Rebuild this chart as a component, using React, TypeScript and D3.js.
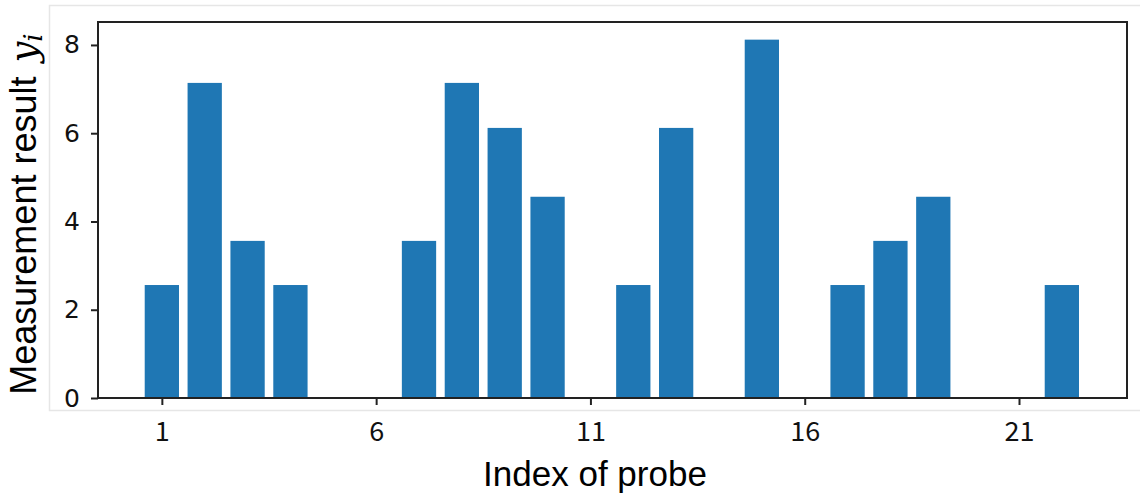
import React, { useEffect, useRef } from "react";
import * as d3 from "d3";

const probes = [1, 2, 3, 4, 5, 6, 7, 8, 9, 10, 11, 12, 13, 14, 15, 16, 17, 18, 19, 20, 21, 22];
const results = [2.56, 7.14, 3.56, 2.56, 0, 0, 3.56, 7.14, 6.12, 4.56, 0, 2.56, 6.12, 0, 8.12, 0, 2.56, 3.56, 4.56, 0, 0, 2.56];
const xTicks = [1, 6, 11, 16, 21];
const yTicks = [0, 2, 4, 6, 8];

const App = () => {
  const svgRef = useRef<SVGSVGElement>(null);

  useEffect(() => {
    const svg = d3.select(svgRef.current);
    svg.selectAll("*").remove();

    const width = 1140;
    const height = 499;
    const margin = { top: 22, right: 13, bottom: 101, left: 98 };

    // faint figure edge
    svg
      .append("rect")
      .attr("x", 49.5)
      .attr("y", 5.5)
      .attr("width", 1100)
      .attr("height", 405)
      .attr("fill", "none")
      .attr("stroke", "#e6e6e6")
      .attr("stroke-width", 1.5);

    const xScale = d3
      .scaleLinear()
      .domain([-0.49, 23.52])
      .range([margin.left, width - margin.right]);

    const yScale = d3
      .scaleLinear()
      .domain([0, 8.52])
      .range([height - margin.bottom, margin.top]);

    const barW = xScale(0.8) - xScale(0);

    svg
      .selectAll("rect.bar")
      .data(probes.map((p, i) => [p, results[i]]))
      .enter()
      .filter(([, v]) => v > 0)
      .append("rect")
      .attr("class", "bar")
      .attr("x", ([p]) => xScale(p - 0.4))
      .attr("y", ([, v]) => yScale(v))
      .attr("width", barW)
      .attr("height", ([, v]) => yScale(0) - yScale(v))
      .attr("fill", "#1f77b4");

    const xAxis = d3.axisBottom(xScale).tickValues(xTicks).tickSize(7).tickSizeOuter(0).tickPadding(17);
    const yAxis = d3.axisLeft(yScale).tickValues(yTicks).tickSize(7).tickSizeOuter(0).tickPadding(11);

    const gx = svg
      .append("g")
      .attr("transform", `translate(0,${height - margin.bottom})`)
      .call(xAxis);
    gx.select(".domain").remove();
    gx.selectAll("line").attr("stroke", "#222").attr("stroke-width", 2);
    gx.selectAll("text")
      .attr("font-family", "'Noto Sans CJK JP', 'Noto Sans', sans-serif")
      .attr("font-size", 27)
      .attr("fill", "#111");

    const gy = svg
      .append("g")
      .attr("transform", `translate(${margin.left},0)`)
      .call(yAxis);
    gy.select(".domain").remove();
    gy.selectAll("line").attr("stroke", "#222").attr("stroke-width", 2);
    gy.selectAll("text")
      .attr("font-family", "'DejaVu Sans', sans-serif")
      .attr("font-size", 25)
      .attr("fill", "#111");

    // frame
    svg
      .append("rect")
      .attr("x", margin.left)
      .attr("y", margin.top)
      .attr("width", width - margin.left - margin.right)
      .attr("height", height - margin.top - margin.bottom)
      .attr("fill", "none")
      .attr("stroke", "#222")
      .attr("stroke-width", 2);

    svg
      .append("text")
      .attr("x", 595)
      .attr("y", 486)
      .attr("text-anchor", "middle")
      .attr("font-family", "'Liberation Sans', Arial, sans-serif")
      .attr("font-size", 35)
      .attr("fill", "#000")
      .text("Index of probe");

    const yl = svg
      .append("text")
      .attr("transform", "translate(36,214) rotate(-90)")
      .attr("text-anchor", "middle")
      .attr("font-family", "'Liberation Sans', Arial, sans-serif")
      .attr("font-size", 36)
      .attr("fill", "#000");
    yl.append("tspan").text("Measurement result ");
    yl.append("tspan")
      .attr("font-family", "'DejaVu Serif', serif")
      .attr("font-style", "italic")
      .attr("font-size", 37)
      .attr("dx", 4)
      .text("y");
    yl.append("tspan")
      .attr("font-family", "'DejaVu Serif', serif")
      .attr("font-style", "italic")
      .attr("font-size", 26)
      .attr("dy", 6)
      .text("i");
  }, []);

  return <svg ref={svgRef} width={1140} height={499} style={{ position: "absolute", left: 0, top: 0 }} />;
};

export default App;
